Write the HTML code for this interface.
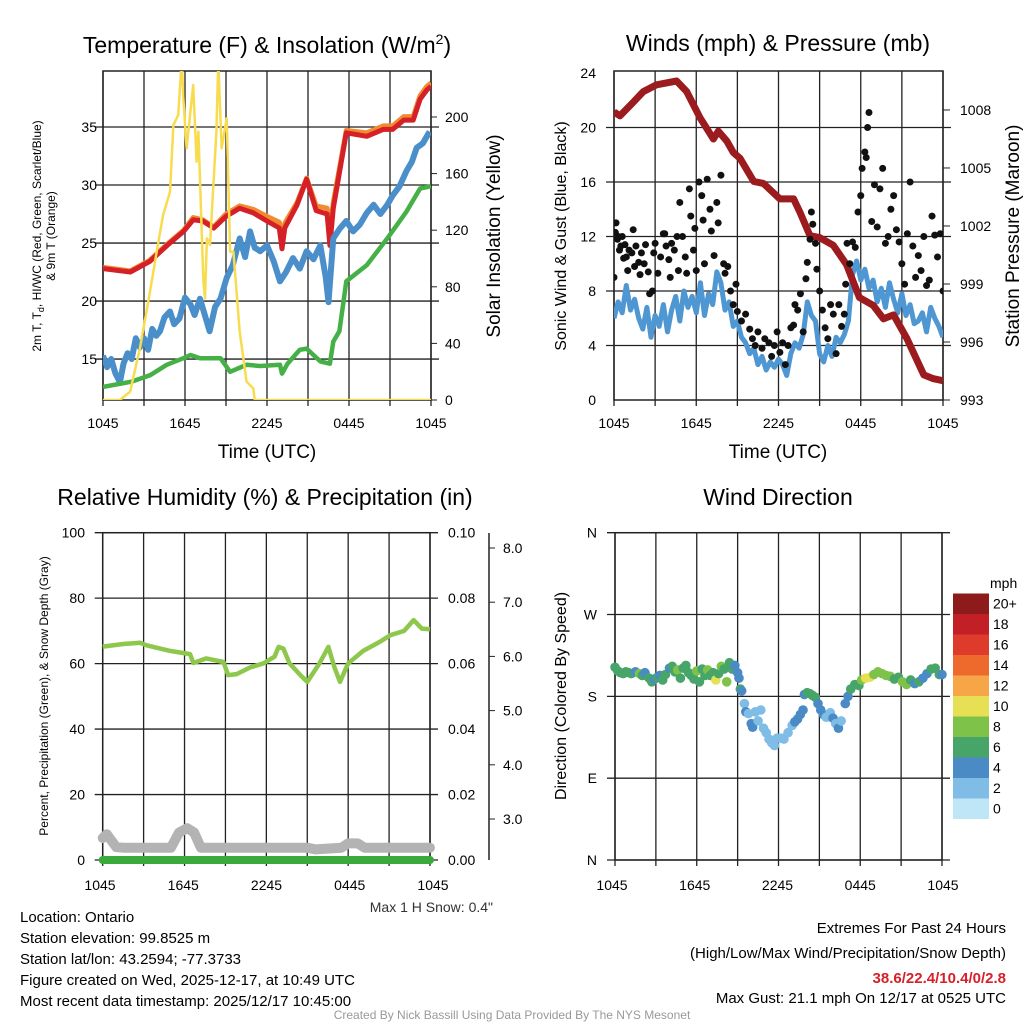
<!DOCTYPE html>
<html><head><meta charset="utf-8"><style>
html,body{margin:0;padding:0;background:#fff;}
svg{display:block;font-family:"Liberation Sans",sans-serif;}
</style></head><body>
<svg id="root" width="1024" height="1024" viewBox="0 0 1024 1024" xmlns="http://www.w3.org/2000/svg">
<defs>
<clipPath id="c1"><rect x="103" y="71" width="328" height="329"/></clipPath>
<clipPath id="c2"><rect x="614" y="71" width="329" height="329"/></clipPath>
<clipPath id="c3"><rect x="92" y="520" width="350" height="350"/></clipPath>
<clipPath id="c4"><rect x="605" y="525" width="345" height="345"/></clipPath>
</defs>
<text x="267" y="53" font-size="23" text-anchor="middle">Temperature (F) &amp; Insolation (W/m<tspan font-size="14" dy="-9">2</tspan><tspan dy="9">)</tspan></text>
<text x="778" y="51" font-size="23" text-anchor="middle">Winds (mph) &amp; Pressure (mb)</text>
<text x="265" y="505" font-size="23" text-anchor="middle">Relative Humidity (%) &amp; Precipitation (in)</text>
<text x="778" y="505" font-size="23" text-anchor="middle">Wind Direction</text>
<text transform="translate(41,236) rotate(-90)" font-size="12" text-anchor="middle">2m T, T<tspan font-size="9" dy="3">d</tspan><tspan dy="-3">, HI/WC (Red, Green, Scarlet/Blue)</tspan></text>
<text transform="translate(55,236) rotate(-90)" font-size="12" text-anchor="middle">&amp; 9m T (Orange)</text>
<text transform="translate(500,236) rotate(-90)" font-size="19" text-anchor="middle">Solar Insolation (Yellow)</text>
<text x="267" y="458" font-size="19" text-anchor="middle">Time (UTC)</text>
<text transform="translate(566,236) rotate(-90)" font-size="16" text-anchor="middle">Sonic Wind &amp; Gust (Blue, Black)</text>
<text transform="translate(1019,236) rotate(-90)" font-size="19" text-anchor="middle">Station Pressure (Maroon)</text>
<text x="778" y="458" font-size="19" text-anchor="middle">Time (UTC)</text>
<text transform="translate(48,696) rotate(-90)" font-size="12" text-anchor="middle">Percent, Precipitation (Green), &amp; Snow Depth (Gray)</text>
<text transform="translate(566,696) rotate(-90)" font-size="16" text-anchor="middle">Direction (Colored By Speed)</text>
<text x="493" y="912" font-size="14" text-anchor="end" fill="#333">Max 1 H Snow: 0.4"</text>
<g font-size="15">
<text x="20" y="922">Location: Ontario</text>
<text x="20" y="943">Station elevation: 99.8525 m</text>
<text x="20" y="964">Station lat/lon: 43.2594; -77.3733</text>
<text x="20" y="985">Figure created on Wed, 2025-12-17, at 10:49 UTC</text>
<text x="20" y="1006">Most recent data timestamp: 2025/12/17 10:45:00</text>
</g>
<g font-size="15" text-anchor="end">
<text x="1006" y="933">Extremes For Past 24 Hours</text>
<text x="1006" y="958">(High/Low/Max Wind/Precipitation/Snow Depth)</text>
<text x="1006" y="983" fill="#d6202a" font-weight="bold">38.6/22.4/10.4/0/2.8</text>
<text x="1006" y="1003">Max Gust: 21.1 mph On 12/17 at 0525 UTC</text>
</g>
<text x="512" y="1019" font-size="12" fill="#999" text-anchor="middle">Created By Nick Bassill Using Data Provided By The NYS Mesonet</text>
<g id="plots"></g>
</svg>
<script>
const tempTimes=[0,2,3.4,4.7,5.9,6.6,7.3,8.1,9,10,11,12,12.9,13.1,13.3,14.2,14.9,15.6,16.4,16.6,16.85,17.8,19.3,20.5,21.2,22,22.7,23.2,23.7,24];
const hiwcVals=[22.8,22.5,23.4,24.8,26.0,27.0,26.9,26.3,27.3,28.0,27.6,26.9,26.3,24.5,26.3,28.3,30.5,27.8,27.5,24.8,28,34.5,34.2,34.8,34.8,35.6,35.6,37.4,38.2,38.5];
const temp9mVals=[22.9,22.6,23.5,24.9,26.1,27.2,27.0,26.4,27.5,28.2,27.9,27.3,26.8,25.3,26.7,28.5,30.6,28.2,28.0,26.0,28.5,34.7,34.5,35.1,35.1,35.9,35.9,37.7,38.5,38.8];
const dewTimes=[0,0.3,0.6,0.9,1.24,1.5,1.8,2.1,2.4,2.7,3.0,3.3,3.6,3.9,4.17,4.5,4.9,5.2,5.6,6.0,6.4,6.7,7.1,7.4,7.8,8.2,8.6,9.05,9.5,10,10.4,10.76,11.1,11.5,12,12.5,12.95,13.4,13.9,14.4,14.9,15.4,15.9,16.3,16.5,16.85,17.3,17.8,18.3,18.8,19.3,19.8,20.3,20.8,21.2,21.7,22.2,22.6,22.95,23.4,23.9];
const dewVals=[15.3,14.3,15.0,13.8,13.0,14.6,15.5,15.0,16.8,16.0,16.8,15.8,17.6,17.0,17.4,18.6,19.1,18.0,18.5,20.3,19.7,18.8,20.2,19.0,17.4,19.5,20.2,22.0,23.1,25.4,23.8,26.0,24.6,24.3,24.8,23.4,21.7,22.5,23.7,22.8,24.3,23.6,24.8,22.0,19.9,25.4,26.2,26.9,26.0,26.6,27.6,28.3,27.5,28.3,29.1,29.9,31.2,32.0,33.2,33.6,34.6];
const tdTimes=[0,2.07,3.44,4.66,5.88,6.4,7.1,8.6,9.3,10.5,11.5,12.95,13.1,13.5,14.4,14.9,15.9,16.6,16.85,17.3,17.8,19.3,20.8,22.2,23.2,24];
const tdVals=[12.6,13.05,13.6,14.5,15.07,15.35,15.07,15.07,13.9,14.5,14.4,14.5,13.75,14.6,15.8,15.9,14.8,14.6,16.5,17.4,21.7,23.1,25.4,27.7,29.7,29.9];
const solarTimes=[0,1.24,1.98,2.7,3.44,3.93,4.4,4.9,5.15,5.5,5.76,5.88,6.12,6.6,6.85,6.98,7.35,7.46,7.6,7.83,8.3,8.44,8.68,9.05,9.3,9.54,10.0,10.5,11.0,11.1,24];
const solarVals=[0,0,5.9,36.5,76.6,104.8,130.7,147.2,194.3,201.4,240,213.2,177.9,222.6,168.4,189.6,83.6,71.9,114.3,109.5,189.6,240,177.9,199,104.8,104.8,48.3,13,8.2,0,0];
const tempTicks=[15,20,25,30,35];
const solarTicks=[0,40,80,120,160,200];
const timeLabels=["1045","1645","2245","0445","1045"];

const pressTimes=[0,0.44,1.41,2.14,3.11,4.57,5.3,6.27,7.25,7.61,8.22,8.7,9.19,10.2,10.9,12.1,13.1,13.57,14.3,15.0,16.0,16.97,17.9,18.9,19.65,20.4,21.35,22.6,23.3,24];
const pressVals=[1007.9,1007.7,1008.4,1008.95,1009.3,1009.5,1008.95,1007.6,1006.5,1006.9,1006.4,1005.8,1005.5,1004.3,1004.2,1003.4,1003.4,1002.7,1001.5,1001.4,1001.0,1000.0,998.3,997.9,997.2,997.4,996.2,994.3,994.1,994.0];
const windTimes=[0,0.3,0.6,0.9,1.2,1.5,1.8,2.1,2.4,2.7,3.0,3.3,3.6,3.9,4.2,4.5,4.8,5.1,5.4,5.7,6.0,6.3,6.6,6.9,7.2,7.5,7.8,8.1,8.4,8.7,9.0,9.3,9.6,9.9,10.2,10.5,10.8,11.1,11.4,11.7,12.0,12.3,12.6,12.9,13.2,13.5,13.8,14.1,14.4,14.7,15.0,15.3,15.6,15.9,16.2,16.5,16.8,17.1,17.4,17.7,18.0,18.3,18.6,18.9,19.2,19.5,19.8,20.1,20.4,20.7,21.0,21.3,21.6,21.9,22.2,22.5,22.8,23.1,23.4,23.7,24];
const windVals=[6.0,7.2,6.4,8.4,6.6,7.4,6.0,5.2,6.8,4.6,6.2,5.4,7.0,5.0,6.6,7.6,5.8,8.0,6.8,7.6,6.4,8.6,6.2,7.8,7.0,9.4,8.6,6.6,7.2,5.4,5.8,4.6,4.2,3.4,3.8,2.6,3.2,2.2,2.8,2.4,3.0,2.6,1.8,3.4,4.2,3.8,4.8,7.2,6.2,5.8,3.4,2.8,4.0,3.2,4.6,4.2,4.8,5.8,9.2,10.2,8.8,9.6,8.2,8.8,7.2,8.2,6.8,8.6,7.4,6.4,7.8,6.2,7.0,5.6,5.8,6.4,5.0,6.8,6.0,5.4,4.6];
const gustTimes=[0,0.1,0.15,0.25,0.3,0.4,0.5,0.6,0.7,0.8,0.9,1.0,1.1,1.3,1.4,1.5,1.6,1.8,1.9,2.0,2.2,2.3,2.5,2.6,2.8,2.9,3.0,3.2,3.4,3.6,3.7,3.8,4.0,4.1,4.2,4.4,4.6,4.7,4.8,5.0,5.2,5.3,5.5,5.6,5.8,5.9,6.0,6.2,6.4,6.5,6.6,6.8,7.0,7.1,7.3,7.5,7.6,7.8,8.0,8.1,8.3,8.5,8.7,8.9,9.0,9.3,9.6,9.9,10.1,10.3,10.5,10.8,11.0,11.3,11.5,11.7,11.9,12.1,12.3,12.5,12.7,12.9,13.1,13.2,13.4,13.6,13.8,14.0,14.1,14.3,14.4,14.5,14.7,14.8,15.0,15.2,15.4,15.6,15.8,16.0,16.2,16.4,16.6,16.8,16.9,17.0,17.2,17.4,17.6,17.8,18.0,18.1,18.3,18.4,18.5,18.6,18.8,19.0,19.2,19.4,19.6,19.8,20.0,20.2,20.4,20.6,20.8,21.0,21.2,21.4,21.6,21.8,22.0,22.2,22.4,22.6,22.8,23.0,23.2,23.4,23.6,23.8,24.0];
const gustVals=[9.0,12.3,13.0,11.8,12.0,11.0,11.3,12.0,10.4,11.4,10.5,9.5,11.0,10.8,12.5,9.8,11.3,10.1,9.2,10.8,10.0,11.4,9.4,7.8,8.0,10.8,11.5,9.3,10.5,12.2,12.2,11.3,10.3,9.0,11.5,11.0,12.0,9.5,14.5,12.0,10.5,9.3,15.5,13.5,11.0,12.6,9.5,16.0,15.0,13.2,10.0,16.2,14.0,12.4,10.6,14.5,13.0,16.5,10.0,9.3,9.8,8.0,7.0,8.5,6.5,5.8,6.3,5.2,4.5,4.0,5.0,3.8,4.5,4.2,3.2,4.0,5.0,3.5,4.2,2.6,4.0,5.3,5.5,7.0,6.6,7.8,5.0,8.9,10.1,11.8,13.8,12.9,11.5,9.6,8.0,6.6,5.3,4.5,7.0,6.3,3.4,7.0,5.4,6.3,8.5,11.5,10.0,11.6,11.2,13.8,15.0,17.0,18.2,17.8,20.0,21.1,13.1,15.8,12.7,15.5,17.0,11.5,12.0,14.0,15.0,12.5,11.6,10.0,8.5,12.2,16.0,11.3,9.0,10.6,9.5,12.0,8.4,8.8,13.5,12.1,10.5,12.2,8.0];
const windTicks=[0,4,8,12,16,20,24];
const pressTicks=[993,996,999,1002,1005,1008];

const rhTimes=[0,1.51,2.73,3.22,4.94,6.4,6.65,7.6,8.85,9.2,9.82,10.8,11.8,12.6,12.9,13.25,13.7,14.5,15.0,15.9,16.55,17.0,17.4,18.0,19.1,20.3,21.1,22.1,22.8,23.4,24];
const rhVals=[65.2,66.0,66.4,65.6,63.9,62.9,60.2,61.6,60.5,56.5,56.8,58.8,60.1,62.1,65.1,64.6,60.1,56.5,54.4,60.1,65.1,58.8,54.4,60.1,63.9,66.6,68.7,70.0,73.3,70.7,70.5];
const snowTimes=[0,0.3,1.0,1.5,5.0,5.6,6.2,6.7,7.2,15.0,15.6,17.5,18.0,18.7,19.2,24];
const snowVals=[2.65,2.72,2.48,2.47,2.47,2.75,2.83,2.75,2.47,2.47,2.44,2.47,2.55,2.55,2.47,2.47];
const precipTimes=[0,24];
const precipVals=[0,0];
const rhTicks=[0,20,40,60,80,100];
const precipTicks=["0.00","0.02","0.04","0.06","0.08","0.10"];
const snowTicks=["3.0","4.0","5.0","6.0","7.0","8.0"];

const dirTimes=[0,0.2,0.4,0.6,0.8,1.0,1.2,1.5,1.8,2.0,2.2,2.5,2.7,2.9,3.1,3.3,3.5,3.7,4.0,4.2,4.4,4.6,4.8,5.0,5.2,5.4,5.6,5.8,6.0,6.2,6.4,6.6,6.8,7.0,7.2,7.4,7.6,7.8,8.0,8.2,8.4,8.6,8.8,9.0,9.1,9.2,9.3,9.5,9.6,9.8,10.0,10.1,10.3,10.5,10.7,10.9,11.1,11.3,11.5,11.7,11.9,12.2,12.4,12.7,13.0,13.2,13.4,13.6,13.8,13.9,14.1,14.3,14.5,14.7,14.9,15.1,15.3,15.5,15.8,16.0,16.2,16.4,16.6,16.9,17.1,17.3,17.6,17.9,18.1,18.4,18.7,19.0,19.3,19.6,19.9,20.2,20.5,20.8,21.1,21.4,21.7,22.0,22.3,22.6,22.9,23.2,23.5,23.8,24.0];
const dirVals=[212,208,206,205,207,206,205,207,205,203,206,200,196,199,201,203,198,204,211,213,207,209,200,211,214,206,203,199,208,196,210,203,209,203,206,198,205,213,210,196,217,210,214,206,200,188,186,172,163,161,150,146,163,153,165,145,140,133,129,126,134,134,133,140,148,152,155,160,165,182,184,183,181,179,172,165,160,157,162,156,150,145,153,172,180,188,193,192,198,200,201,204,207,205,203,202,199,201,196,193,198,194,196,200,205,210,211,204,204];
const dirSpeeds=[6,6,7,6,6,7,6,5,8,6,5,6,6,4,6,5,6,6,4,6,7,8,6,6,6,6,7,6,8,7,6,7,8,6,7,10,7,8,7,8,6,6,4,4,4,6,4,2,4,2,4,4,2,2,2,2,2,2,2,2,2,2,2,2,2,4,4,4,4,4,6,6,6,6,4,4,4,2,2,4,2,4,2,4,4,6,6,6,9,10,10,8,8,8,8,8,7,6,8,8,6,4,6,4,4,6,6,6,4];
const dirTicks=["N","E","S","W","N"];
const speedBins=["0","2","4","6","8","10","12","14","16","18","20+"];
const binColors=["#bfe6f7","#7fbce6","#4a8bc6","#47a56a","#7fc24a","#e7e054","#f6a646","#ee6a2c","#de3b2a","#c21f26","#8e1b1b"];

const NS="http://www.w3.org/2000/svg";
const root=document.getElementById('plots');
function mk(tag,attrs,parent){const e=document.createElementNS(NS,tag);for(const k in attrs)e.setAttribute(k,attrs[k]);(parent||root).appendChild(e);return e;}
function lin(d0,d1,r0,r1){return v=>r0+(v-d0)/(d1-d0)*(r1-r0);}
function pathD(xs,ys,fx,fy){return xs.map((t,i)=>(i?'L':'M')+fx(t).toFixed(1)+','+fy(ys[i]).toFixed(1)).join('');}
function frame(x0,y0,x1,y1,name){
  const g=mk('g',{});
  
  
  for(let i=0;i<=8;i++){const x=x0+(x1-x0)*i/8;
    mk('line',{x1:x,y1:y0,x2:x,y2:y1,stroke:'#222','stroke-width':1.3},g);
    mk('line',{x1:x,y1:y1,x2:x,y2:y1+6,stroke:'#222','stroke-width':1.3},g);}
  return g;
}
function hline(g,x0,x1,y){mk('line',{x1:x0-8,y1:y,x2:x1+8,y2:y,stroke:'#222','stroke-width':1.3},g);}
function timeAxis(x0,x1,y){for(let i=0;i<timeLabels.length;i++){const t=mk('text',{x:x0+(x1-x0)*i/4,y:y,'font-size':14,'text-anchor':'middle'});
  
  
  t.textContent=timeLabels[i];}}
function label(x,y,txt,anchor,size){const t=mk('text',{x:x,y:y,'font-size':size||14,'text-anchor':anchor||'end'});
  
  
  t.textContent=txt;return t;}

{
const X=lin(0,24,103,431), T=lin(11.47,39.83,400,71), S=lin(0,232.5,400,71);
const g=frame(103,71,431,400,'temp-grid');
tempTicks.forEach(v=>{hline(g,103,431,T(v));label(97,T(v)+5,String(v));});
solarTicks.forEach(v=>{label(445,S(v)+5,String(v),'start');mk('line',{x1:431,y1:S(v),x2:437,y2:S(v),stroke:'#222'});});
mk('rect',{x:103,y:71,width:328,height:329,fill:'none',stroke:'#222','stroke-width':1.5});
timeAxis(103,431,428);
const c=mk('g',{'clip-path':'url(#c1)'});
const o=mk('path',{d:pathD(tempTimes,temp9mVals,X,T),fill:'none',stroke:'#f28a30','stroke-width':5,'stroke-linejoin':'round'},c);


const r=mk('path',{d:pathD(tempTimes,hiwcVals,X,T),fill:'none',stroke:'#d42026','stroke-width':5,'stroke-linejoin':'round'},c);


const b=mk('path',{d:pathD(dewTimes,dewVals,X,T),fill:'none',stroke:'#4a8fca','stroke-width':6,'stroke-linejoin':'round'},c);


const gr=mk('path',{d:pathD(tdTimes,tdVals,X,T),fill:'none',stroke:'#45b046','stroke-width':4.5,'stroke-linejoin':'round'},c);


const y=mk('path',{d:pathD(solarTimes,solarVals,X,S),fill:'none',stroke:'#f8dc50','stroke-width':2.5,'stroke-linejoin':'round'},c);


}
{
const X=lin(0,24,614,943), W=lin(0,24,400,73), P=lin(993,1010,400,71.3);
const g=frame(614,71,943,400,'wind-grid');
windTicks.forEach(v=>{if(v>0&&v<24)hline(g,614,943,W(v));label(596,W(v)+5,String(v));});
pressTicks.forEach(v=>{label(960,P(v)+5,String(v),'start');mk('line',{x1:943,y1:P(v),x2:950,y2:P(v),stroke:'#222'});});
mk('rect',{x:614,y:71,width:329,height:329,fill:'none',stroke:'#222','stroke-width':1.5});
timeAxis(614,943,428);
const c=mk('g',{'clip-path':'url(#c2)'});
const b=mk('path',{d:pathD(windTimes,windVals,X,W),fill:'none',stroke:'#4f97d2','stroke-width':5,'stroke-linejoin':'round'},c);


const m=mk('path',{d:pathD(pressTimes,pressVals,X,P),fill:'none',stroke:'#9b1b1e','stroke-width':7,'stroke-linejoin':'round'},c);


gustTimes.forEach((t,i)=>{const d=mk('circle',{cx:X(t),cy:W(gustVals[i]),r:3.5,fill:'#111'},c);
  
  });
}
{
const X=lin(0,24,102.7,430), R=lin(0,100,860,532.7), SN=lin(3,8,819,548);
const g=frame(102.7,532.7,430,860,'rh-grid');
rhTicks.forEach((v,i)=>{hline(g,102.7,430,R(v));label(85,R(v)+5,String(v));label(448,R(v)+5,precipTicks[i],'start');});
mk('line',{x1:489,y1:533,x2:489,y2:860,stroke:'#222','stroke-width':1.5});
snowTicks.forEach(v=>{const y=SN(+v);label(503,y+5,v,'start');mk('line',{x1:489,y1:y,x2:495,y2:y,stroke:'#222'});});
mk('rect',{x:102.7,y:532.7,width:327.3,height:327.3,fill:'none',stroke:'#222','stroke-width':1.5});
timeAxis(100,433,890);
const c=mk('g',{'clip-path':'url(#c3)'});
const s=mk('path',{d:pathD(snowTimes,snowVals,X,SN),fill:'none',stroke:'#b3b3b3','stroke-width':10,'stroke-linejoin':'round','stroke-linecap':'round'},c);


const p=mk('path',{d:pathD(precipTimes,precipVals,X,v=>860-v*3273),fill:'none',stroke:'#3aab3a','stroke-width':8,'stroke-linecap':'round'},c);


const h=mk('path',{d:pathD(rhTimes,rhVals,X,R),fill:'none',stroke:'#8dc84c','stroke-width':4.5,'stroke-linejoin':'round'},c);


}
{
const X=lin(0,24,615,942), D=lin(0,360,860,532.7);
const g=frame(615,532.7,942,860,'direction-grid');
dirTicks.forEach((v,i)=>{const y=D(i*90);hline(g,615,942,y);label(597,y+5,v);});
mk('rect',{x:615,y:532.7,width:327,height:327.3,fill:'none',stroke:'#222','stroke-width':1.5});
timeAxis(612,943,890);
const c=mk('g',{'clip-path':'url(#c4)'});
dirTimes.forEach((t,i)=>{const bin=Math.min(10,Math.floor(dirSpeeds[i]/2));
  const d=mk('circle',{cx:X(t),cy:D(dirVals[i]),r:4.8,fill:binColors[bin]},c);
  
  });
const leg=mk('g',{});


const t=mk('text',{x:990,y:588,'font-size':14},leg);t.textContent='mph';
speedBins.forEach((v,i)=>{const y=819-(i+1)*20.5;
  mk('rect',{x:953,y:y,width:36,height:20.5,fill:binColors[i]},leg);
  const l=mk('text',{x:993,y:y+15,'font-size':14},leg);
  
  
  l.textContent=v;});
}
</script>
</body></html>
